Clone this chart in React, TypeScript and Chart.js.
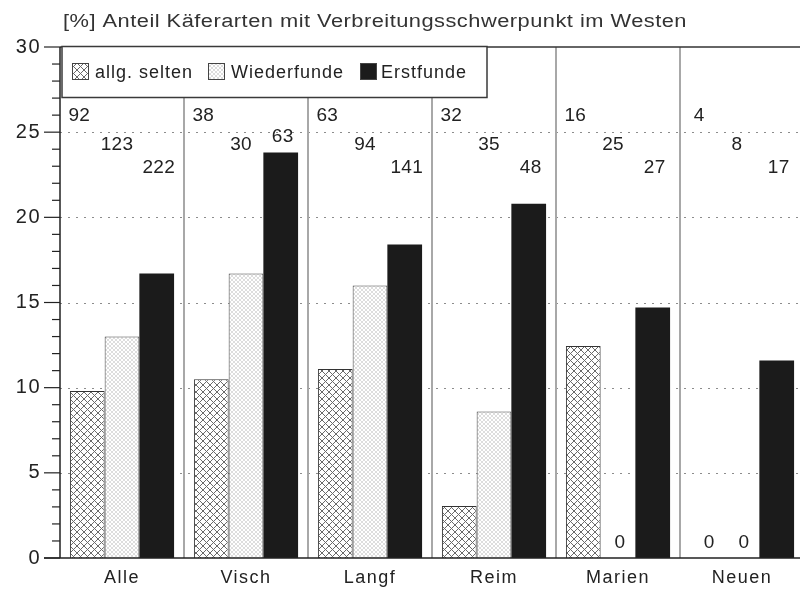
import React, { useEffect, useRef } from 'react';
import { Chart, registerables } from 'chart.js';

Chart.register(...registerables);

const titleText = '[%] Anteil Käferarten mit Verbreitungsschwerpunkt im Westen';
const categories = ['Alle', 'Visch', 'Langf', 'Reim', 'Marien', 'Neuen'];
const seriesNames = ['allg. selten', 'Wiederfunde', 'Erstfunde'];
const allgSelten = [9.8, 10.5, 11.1, 3.05, 12.45, 0];
const wiederfunde = [13.0, 16.7, 16.0, 8.6, 0, 0];
const erstfunde = [16.7, 23.8, 18.4, 20.8, 14.7, 11.6];
const countsAllg = [92, 38, 63, 32, 16, 4];
const countsWieder = [123, 30, 94, 35, 25, 8];
const countsErst = [222, 63, 141, 48, 27, 17];
const yMin = 0;
const yMax = 30;
const yStep = 5;

const FONT = '"Liberation Sans", Arial, sans-serif';

function makeCross(size: number, color: string, width: number): CanvasPattern | string {
  const c = document.createElement('canvas');
  c.width = size;
  c.height = size;
  const g = c.getContext('2d');
  if (!g) return '#ccc';
  g.fillStyle = '#ffffff';
  g.fillRect(0, 0, size, size);
  g.strokeStyle = color;
  g.lineWidth = width;
  g.beginPath();
  g.moveTo(-1, -1);
  g.lineTo(size + 1, size + 1);
  g.moveTo(size + 1, -1);
  g.lineTo(-1, size + 1);
  g.stroke();
  const p = g.createPattern(c, 'repeat');
  return p || '#ccc';
}

export default function App() {
  const ref = useRef<HTMLCanvasElement>(null);

  useEffect(() => {
    const canvas = ref.current;
    if (!canvas) return;
    const hatch = makeCross(7, '#6a6a6a', 1);
    const stipple = makeCross(4, '#d4d4d4', 0.8);
    const fills: any[] = [hatch, stipple, '#1b1b1b'];
    const countSets = [countsAllg, countsWieder, countsErst];
    const seriesValues = [allgSelten, wiederfunde, erstfunde];
    const levelsPx = [116, 145, 168];
    const dxs = [-8, -5, 2];

    const decor = {
      id: 'decor',
      beforeDraw(chart: any) {
        chart.ctx.letterSpacing = '1.5px';
      },
      beforeDatasetsDraw(chart: any) {
        const { ctx, chartArea } = chart;
        const ys = chart.scales.y;
        const xs = chart.scales.x;
        ctx.save();
        ctx.letterSpacing = '0px';
        ctx.strokeStyle = '#8c8c8c';
        ctx.lineWidth = 1;
        ctx.setLineDash([2, 6]);
        for (let v = yMin + yStep; v < yMax; v += yStep) {
          const y = Math.round(ys.getPixelForValue(v)) + 0.5;
          ctx.beginPath();
          ctx.moveTo(chartArea.left, y);
          ctx.lineTo(chartArea.right, y);
          ctx.stroke();
        }
        ctx.setLineDash([]);
        ctx.strokeStyle = '#a8a8a8';
        ctx.lineWidth = 2;
        for (let i = 0; i < categories.length - 1; i++) {
          const x = (xs.getPixelForValue(i) + xs.getPixelForValue(i + 1)) / 2;
          ctx.beginPath();
          ctx.moveTo(x, chartArea.top);
          ctx.lineTo(x, chartArea.bottom);
          ctx.stroke();
        }
        ctx.strokeStyle = '#333';
        ctx.lineWidth = 1.5;
        const yt = ys.getPixelForValue(yMax);
        ctx.beginPath();
        ctx.moveTo(chartArea.left, yt);
        ctx.lineTo(chartArea.right, yt);
        ctx.stroke();
        ctx.restore();
      },
      afterDatasetsDraw(chart: any) {
        const { ctx, chartArea } = chart;
        const ys = chart.scales.y;
        ctx.save();
        ctx.letterSpacing = '0px';
        ctx.strokeStyle = '#222';
        ctx.lineWidth = 1.5;
        ctx.beginPath();
        ctx.moveTo(chartArea.left, ys.getPixelForValue(yMax));
        ctx.lineTo(chartArea.left, chartArea.bottom);
        ctx.moveTo(chartArea.left - 16, chartArea.bottom);
        ctx.lineTo(chartArea.right, chartArea.bottom);
        ctx.stroke();
        ctx.lineWidth = 1.2;
        for (let v = yMin; v <= yMax; v += 1) {
          const len = v % yStep === 0 ? 16 : 8;
          const y = ys.getPixelForValue(v);
          ctx.beginPath();
          ctx.moveTo(chartArea.left - len, y);
          ctx.lineTo(chartArea.left, y);
          ctx.stroke();
        }
        // legend
        const lx = 62, ly = 46.5, lw = 425, lh = 51;
        ctx.fillStyle = '#fff';
        ctx.fillRect(lx, ly, lw, lh);
        ctx.strokeStyle = '#3a3a3a';
        ctx.lineWidth = 1.5;
        ctx.strokeRect(lx, ly, lw, lh);
        const patchX = [72, 208, 360];
        const textX = [95, 231, 381];
        ctx.font = `18px ${FONT}`;
        ctx.textBaseline = 'middle';
        ctx.textAlign = 'left';
        ctx.letterSpacing = '1px';
        for (let i = 0; i < seriesNames.length; i++) {
          ctx.fillStyle = fills[i];
          ctx.fillRect(patchX[i], 63, 17, 17);
          ctx.strokeStyle = '#444';
          ctx.lineWidth = 1;
          ctx.strokeRect(patchX[i] + 0.5, 63.5, 16, 16);
          ctx.fillStyle = '#222';
          ctx.fillText(seriesNames[i], textX[i], 73);
        }
        // count labels
        ctx.textAlign = 'center';
        ctx.font = `19px ${FONT}`;
        ctx.letterSpacing = '0.3px';
        ctx.fillStyle = '#222';
        countSets.forEach((arr, si) => {
          const meta = chart.getDatasetMeta(si);
          arr.forEach((c, i) => {
            const bar = meta.data[i];
            const y = Math.min(levelsPx[si], bar.y - 16);
            ctx.fillText(String(c), bar.x + dxs[si], y);
          });
        });
        seriesValues.forEach((arr, si) => {
          const meta = chart.getDatasetMeta(si);
          arr.forEach((v, i) => {
            if (v === 0) {
              const bar = meta.data[i];
              ctx.fillText('0', bar.x + 2, ys.getPixelForValue(0.9));
            }
          });
        });
        ctx.restore();
      },
      afterDraw(chart: any) {
        const { ctx } = chart;
        ctx.save();
        ctx.font = `18px ${FONT}`;
        ctx.letterSpacing = '0.4px';
        const w = ctx.measureText(titleText).width;
        const target = 624;
        const sx = target / w;
        ctx.translate(63, 22);
        ctx.scale(sx, 1);
        ctx.fillStyle = '#333';
        ctx.textAlign = 'left';
        ctx.textBaseline = 'middle';
        ctx.fillText(titleText, 0, 0);
        ctx.restore();
      },
    };

    const chart = new Chart(canvas, {
      type: 'bar',
      data: {
        labels: categories,
        datasets: [
          { label: seriesNames[0], data: allgSelten, backgroundColor: hatch as any, borderColor: '#333', borderWidth: 1, borderSkipped: 'bottom' },
          { label: seriesNames[1], data: wiederfunde, backgroundColor: stipple as any, borderColor: '#444', borderWidth: 1, borderSkipped: 'bottom' },
          { label: seriesNames[2], data: erstfunde, backgroundColor: '#1b1b1b', borderWidth: 0 },
        ],
      },
      options: {
        responsive: false,
        animation: false,
        layout: { padding: { top: 47, right: 1, left: 0, bottom: 0 } },
        datasets: { bar: { categoryPercentage: 0.84, barPercentage: 1 } },
        plugins: {
          legend: { display: false },
          title: { display: false },
          tooltip: { enabled: false },
        },
        scales: {
          x: {
            grid: { display: false, drawTicks: false },
            border: { display: false },
            ticks: { font: { family: FONT, size: 18 }, color: '#222', padding: 9 },
            afterFit(s: any) { s.height = 34; },
          },
          y: {
            min: yMin,
            max: yMax,
            grid: { display: false, drawTicks: false },
            border: { display: false },
            ticks: { stepSize: yStep, font: { family: FONT, size: 20 }, color: '#222', padding: 19 },
            afterFit(s: any) { s.width = 60; },
          },
        },
      } as any,
      plugins: [decor],
    });
    return () => chart.destroy();
  }, []);

  return (
    <div style={{ position: 'absolute', left: 0, top: 0, width: 800, height: 592, overflow: 'hidden', background: '#fff' }}>
      <canvas ref={ref} width={805} height={592} style={{ display: 'block', width: 805, height: 592 }} />
    </div>
  );
}
